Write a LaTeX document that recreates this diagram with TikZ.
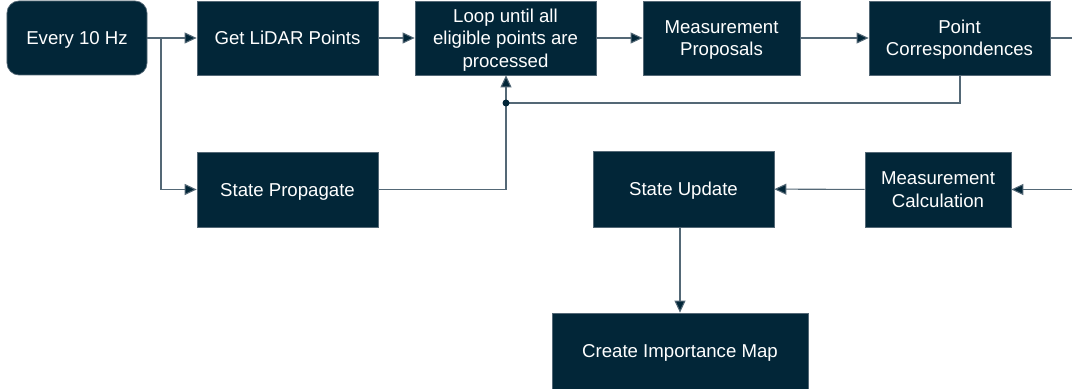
\documentclass[tikz,border=0pt]{standalone}
\usepackage{fontspec}
\setmainfont{Liberation Sans}
\usetikzlibrary{arrows.meta}

\definecolor{navy}{RGB}{2,38,56}
\definecolor{wire}{RGB}{84,104,118}

\tikzset{
  blockbox/.style = {draw=wire, line width=0.4pt, fill=navy, text=white, inner sep=0pt,
    align=center, text depth=0pt, font=\fontsize{10.6}{12.8}\selectfont},
  flow/.style = {draw=wire, line width=0.6pt, -{Triangle[length=2.4mm, width=2.2mm, fill=navy]}},
  plain/.style = {draw=wire, line width=0.6pt}
}

\begin{document}
\begin{tikzpicture}[x=0.2mm, y=-0.2mm]

\useasboundingbox (0,0) rectangle (1072,389);

% top row
\node[blockbox, rounded corners=2.4mm, minimum width=28mm, minimum height=14.8mm] (every) at (77,38) {Every 10 Hz};
\node[blockbox, minimum width=36.2mm, minimum height=14.8mm] (lidar) at (287.5,38) {Get LiDAR Points};
\node[blockbox, minimum width=36.2mm, minimum height=14.8mm] (loop) at (505.5,38) {Loop until all\\eligible points are\\processed};
\node[blockbox, minimum width=31.4mm, minimum height=14.8mm] (proposal) at (721.5,38) {Measurement\\Proposals};
\node[blockbox, minimum width=36.2mm, minimum height=14.8mm] (corresp) at (959.5,38) {Point\\Correspondences};

% middle row
\node[blockbox, minimum width=36.2mm, minimum height=15mm] (propagate) at (287.5,189.5) {State Propagate};
\node[blockbox, minimum width=36.2mm, minimum height=15.2mm] (update) at (683.5,189) {State Update};
\node[blockbox, minimum width=29.2mm, minimum height=15mm] (calc) at (938,189.5) {Measurement\\Calculation};

% bottom
\node[blockbox, minimum width=51.2mm, minimum height=15.2mm] (impmap) at (680,351) {Create Importance Map};

\coordinate (split) at (161,38);
\coordinate (join) at (506,103);
\coordinate (outR) at (1072,38);
\coordinate (inR) at (1072,189.5);

\draw[flow] (every) -- (lidar);
\draw[flow] (split) |- (propagate);
\draw[flow] (lidar) -- (loop);
\draw[flow] (loop) -- (proposal);
\draw[flow] (proposal) -- (corresp);
\draw[plain] (corresp) -- (outR);

\draw[plain] (corresp.south -| 960,0) |- (join);
\draw[plain] (propagate) -| (join);
\draw[flow] (join) -- (join |- loop.south);
\fill[navy] (join) circle (0.7mm);

\draw[flow] (inR) -- (calc);
\draw[flow] (calc) -- (update);
\draw[flow] (update.south -| impmap) -- (impmap);

\end{tikzpicture}
\end{document}
